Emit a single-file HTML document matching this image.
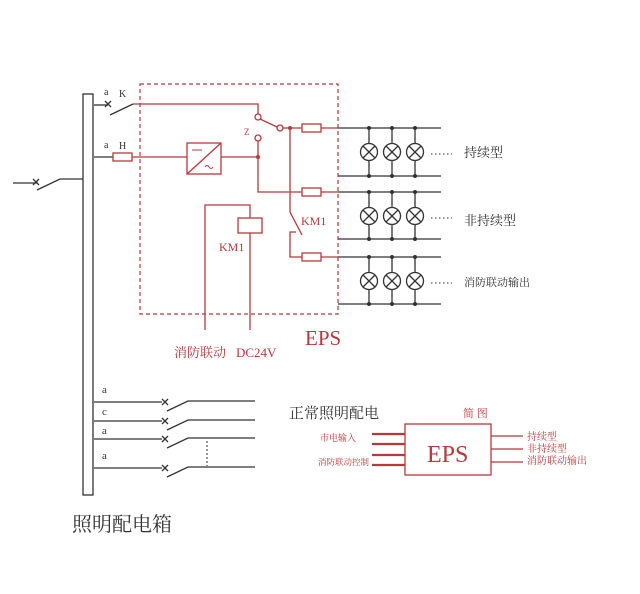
<!DOCTYPE html>
<html><head><meta charset="utf-8"><style>
html,body{margin:0;padding:0;background:#fff;}
svg{display:block;}
text{font-family:"Liberation Serif","Noto Serif CJK SC",serif;}
</style></head><body>
<svg width="640" height="594" viewBox="0 0 640 594" xmlns="http://www.w3.org/2000/svg">
<g fill="none" stroke="#333" stroke-width="1.3">
 <rect x="83" y="94" width="10" height="401" fill="#fff"/>
 <line x1="13" y1="183" x2="38" y2="183"/>
 <path d="M33 179 l6 6 M39 179 l-6 6"/>
 <path d="M37 190 L60 179 L83 179"/>
 <line x1="94" y1="105" x2="108" y2="105"/>
 <path d="M105 101 l6 6 M111 101 l-6 6"/>
 <path d="M110 115 L133 104"/>
 <line x1="94" y1="157" x2="113" y2="157"/>
 <g>
  <line x1="338" y1="128" x2="441" y2="128"/><line x1="338" y1="176" x2="441" y2="176"/>
  <line x1="338" y1="192" x2="441" y2="192"/><line x1="338" y1="239" x2="441" y2="239"/>
  <line x1="338" y1="257" x2="441" y2="257"/><line x1="338" y1="304" x2="441" y2="304"/>
 </g>
 <line x1="94" y1="402" x2="162" y2="402"/>
 <line x1="94" y1="421" x2="162" y2="421"/>
 <line x1="94" y1="439" x2="162" y2="439"/>
 <line x1="94" y1="468" x2="162" y2="468"/>
 <path d="M162 399 l6 6 M168 399 l-6 6 M162 418 l6 6 M168 418 l-6 6 M162 436 l6 6 M168 436 l-6 6 M162 465 l6 6 M168 465 l-6 6"/>
 <path d="M167 411 L188 401 L255 401"/>
 <path d="M167 430 L188 420 L255 420"/>
 <path d="M167 448 L188 438 L255 438"/>
 <path d="M167 477 L188 467 L255 467"/>
 <line x1="207" y1="441" x2="207" y2="466" stroke-dasharray="2,2" stroke-width="1"/>
</g>
<g fill="none" stroke="#333" stroke-width="1.3">
 <g>
  <line x1="369" y1="128" x2="369" y2="176"/><line x1="392" y1="128" x2="392" y2="176"/><line x1="415" y1="128" x2="415" y2="176"/>
  <circle cx="369" cy="152" r="8.5" fill="#fff"/><circle cx="392" cy="152" r="8.5" fill="#fff"/><circle cx="415" cy="152" r="8.5" fill="#fff"/>
  <path d="M363 146 l12 12 M375 146 l-12 12 M386 146 l12 12 M398 146 l-12 12 M409 146 l12 12 M421 146 l-12 12"/>
  <g fill="#333" stroke="none"><circle cx="369" cy="128" r="2"/><circle cx="392" cy="128" r="2"/><circle cx="415" cy="128" r="2"/><circle cx="369" cy="176" r="2"/><circle cx="392" cy="176" r="2"/><circle cx="415" cy="176" r="2"/></g>
  <line x1="431" y1="154" x2="452" y2="154" stroke-dasharray="1.5,2.5" stroke-width="1"/>
 </g>
 <g transform="translate(0,64)">
  <line x1="369" y1="128" x2="369" y2="175"/><line x1="392" y1="128" x2="392" y2="175"/><line x1="415" y1="128" x2="415" y2="175"/>
  <circle cx="369" cy="152" r="8.5" fill="#fff"/><circle cx="392" cy="152" r="8.5" fill="#fff"/><circle cx="415" cy="152" r="8.5" fill="#fff"/>
  <path d="M363 146 l12 12 M375 146 l-12 12 M386 146 l12 12 M398 146 l-12 12 M409 146 l12 12 M421 146 l-12 12"/>
  <g fill="#333" stroke="none"><circle cx="369" cy="128" r="2"/><circle cx="392" cy="128" r="2"/><circle cx="415" cy="128" r="2"/><circle cx="369" cy="175" r="2"/><circle cx="392" cy="175" r="2"/><circle cx="415" cy="175" r="2"/></g>
  <line x1="431" y1="154" x2="452" y2="154" stroke-dasharray="1.5,2.5" stroke-width="1"/>
 </g>
 <g transform="translate(0,129)">
  <line x1="369" y1="128" x2="369" y2="175"/><line x1="392" y1="128" x2="392" y2="175"/><line x1="415" y1="128" x2="415" y2="175"/>
  <circle cx="369" cy="152" r="8.5" fill="#fff"/><circle cx="392" cy="152" r="8.5" fill="#fff"/><circle cx="415" cy="152" r="8.5" fill="#fff"/>
  <path d="M363 146 l12 12 M375 146 l-12 12 M386 146 l12 12 M398 146 l-12 12 M409 146 l12 12 M421 146 l-12 12"/>
  <g fill="#333" stroke="none"><circle cx="369" cy="128" r="2"/><circle cx="392" cy="128" r="2"/><circle cx="415" cy="128" r="2"/><circle cx="369" cy="175" r="2"/><circle cx="392" cy="175" r="2"/><circle cx="415" cy="175" r="2"/></g>
  <line x1="431" y1="154" x2="452" y2="154" stroke-dasharray="1.5,2.5" stroke-width="1"/>
 </g>
</g>
<g fill="none" stroke="#b8383c" stroke-width="1.3">
 <rect x="140" y="84" width="198" height="230" stroke-dasharray="4,3" stroke-width="1.2"/>
 <path d="M133 104 L258 104 L258 114"/>
 <circle cx="258" cy="117" r="3" fill="#fff"/>
 <line x1="260" y1="119" x2="277" y2="127"/>
 <circle cx="280" cy="128" r="3" fill="#fff"/>
 <path d="M283 128 L302 128 M321 128 L338 128"/>
 <rect x="302" y="124" width="19" height="8"/>
 <rect x="113" y="153" width="19" height="8"/>
 <path d="M132 157 L187 157"/>
 <rect x="187" y="143" width="34" height="31"/>
 <line x1="187" y1="174" x2="221" y2="143"/>
 <line x1="192" y1="150" x2="202" y2="150" stroke-width="1"/>
 <path d="M205 167 q2 -3 4 0 q2 3 4 0" stroke-width="1"/>
 <path d="M221 157 L258 157"/>
 <circle cx="258" cy="138" r="3" fill="#fff"/>
 <path d="M258 141 L258 192 L302 192 M321 192 L338 192"/>
 <rect x="302" y="188" width="19" height="8"/>
 <path d="M290 128 L290 212 L302 235"/>
 <path d="M296 232 L290 232 L290 257 L302 257 M321 257 L338 257"/>
 <rect x="302" y="253" width="19" height="8"/>
 <path d="M205 330 L205 205 L250 205 L250 218"/>
 <rect x="238" y="218" width="24" height="15"/>
 <path d="M250 233 L250 330"/>
 <rect x="405" y="424" width="86" height="51"/>
 <g stroke-width="2.2"><line x1="372" y1="434" x2="405" y2="434"/><line x1="372" y1="444" x2="405" y2="444"/><line x1="372" y1="455" x2="405" y2="455"/><line x1="372" y1="465" x2="405" y2="465"/></g>
 <line x1="491" y1="436" x2="523" y2="436"/><line x1="491" y1="449" x2="523" y2="449"/><line x1="491" y1="462" x2="523" y2="462"/>
</g>
<g fill="#b8383c" stroke="none"><circle cx="290" cy="128" r="2"/><circle cx="258" cy="157" r="2"/></g>
<g fill="#333" font-size="10">
 <text x="104" y="95">a</text><text x="119" y="97">K</text>
 <text x="104" y="148">a</text><text x="119" y="149">H</text>
 <text x="244" y="135" font-size="9" fill="#b8383c">Z</text>
 <text x="102" y="393" font-size="11">a</text><text x="102" y="415" font-size="11">c</text>
 <text x="102" y="434" font-size="11">a</text><text x="102" y="459" font-size="11">a</text>
</g>
<g fill="#b8383c">
 <text x="301" y="225" font-size="12">KM1</text>
 <text x="219" y="251" font-size="12">KM1</text>
 <text x="174" y="357" font-size="13">消防联动</text>
 <text x="236" y="357" font-size="13">DC24V</text>
 <text x="305" y="345" font-size="21">EPS</text>
 <text x="463" y="417" font-size="11">简 图</text>
 <text x="427" y="462" font-size="24">EPS</text>
 <text x="320" y="441" font-size="9">市电输入</text>
 <text x="318" y="465" font-size="8.5">消防联动控制</text>
 <text x="527" y="440" font-size="10">持续型</text>
 <text x="527" y="452" font-size="10">非持续型</text>
 <text x="527" y="464" font-size="10">消防联动输出</text>
</g>
<g fill="#333">
 <text x="464" y="157" font-size="13">持续型</text>
 <text x="464" y="225" font-size="13">非持续型</text>
 <text x="464" y="286" font-size="11">消防联动输出</text>
 <text x="289" y="418" font-size="15">正常照明配电</text>
 <text x="72" y="531" font-size="20">照明配电箱</text>
</g>
</svg>
</body></html>
